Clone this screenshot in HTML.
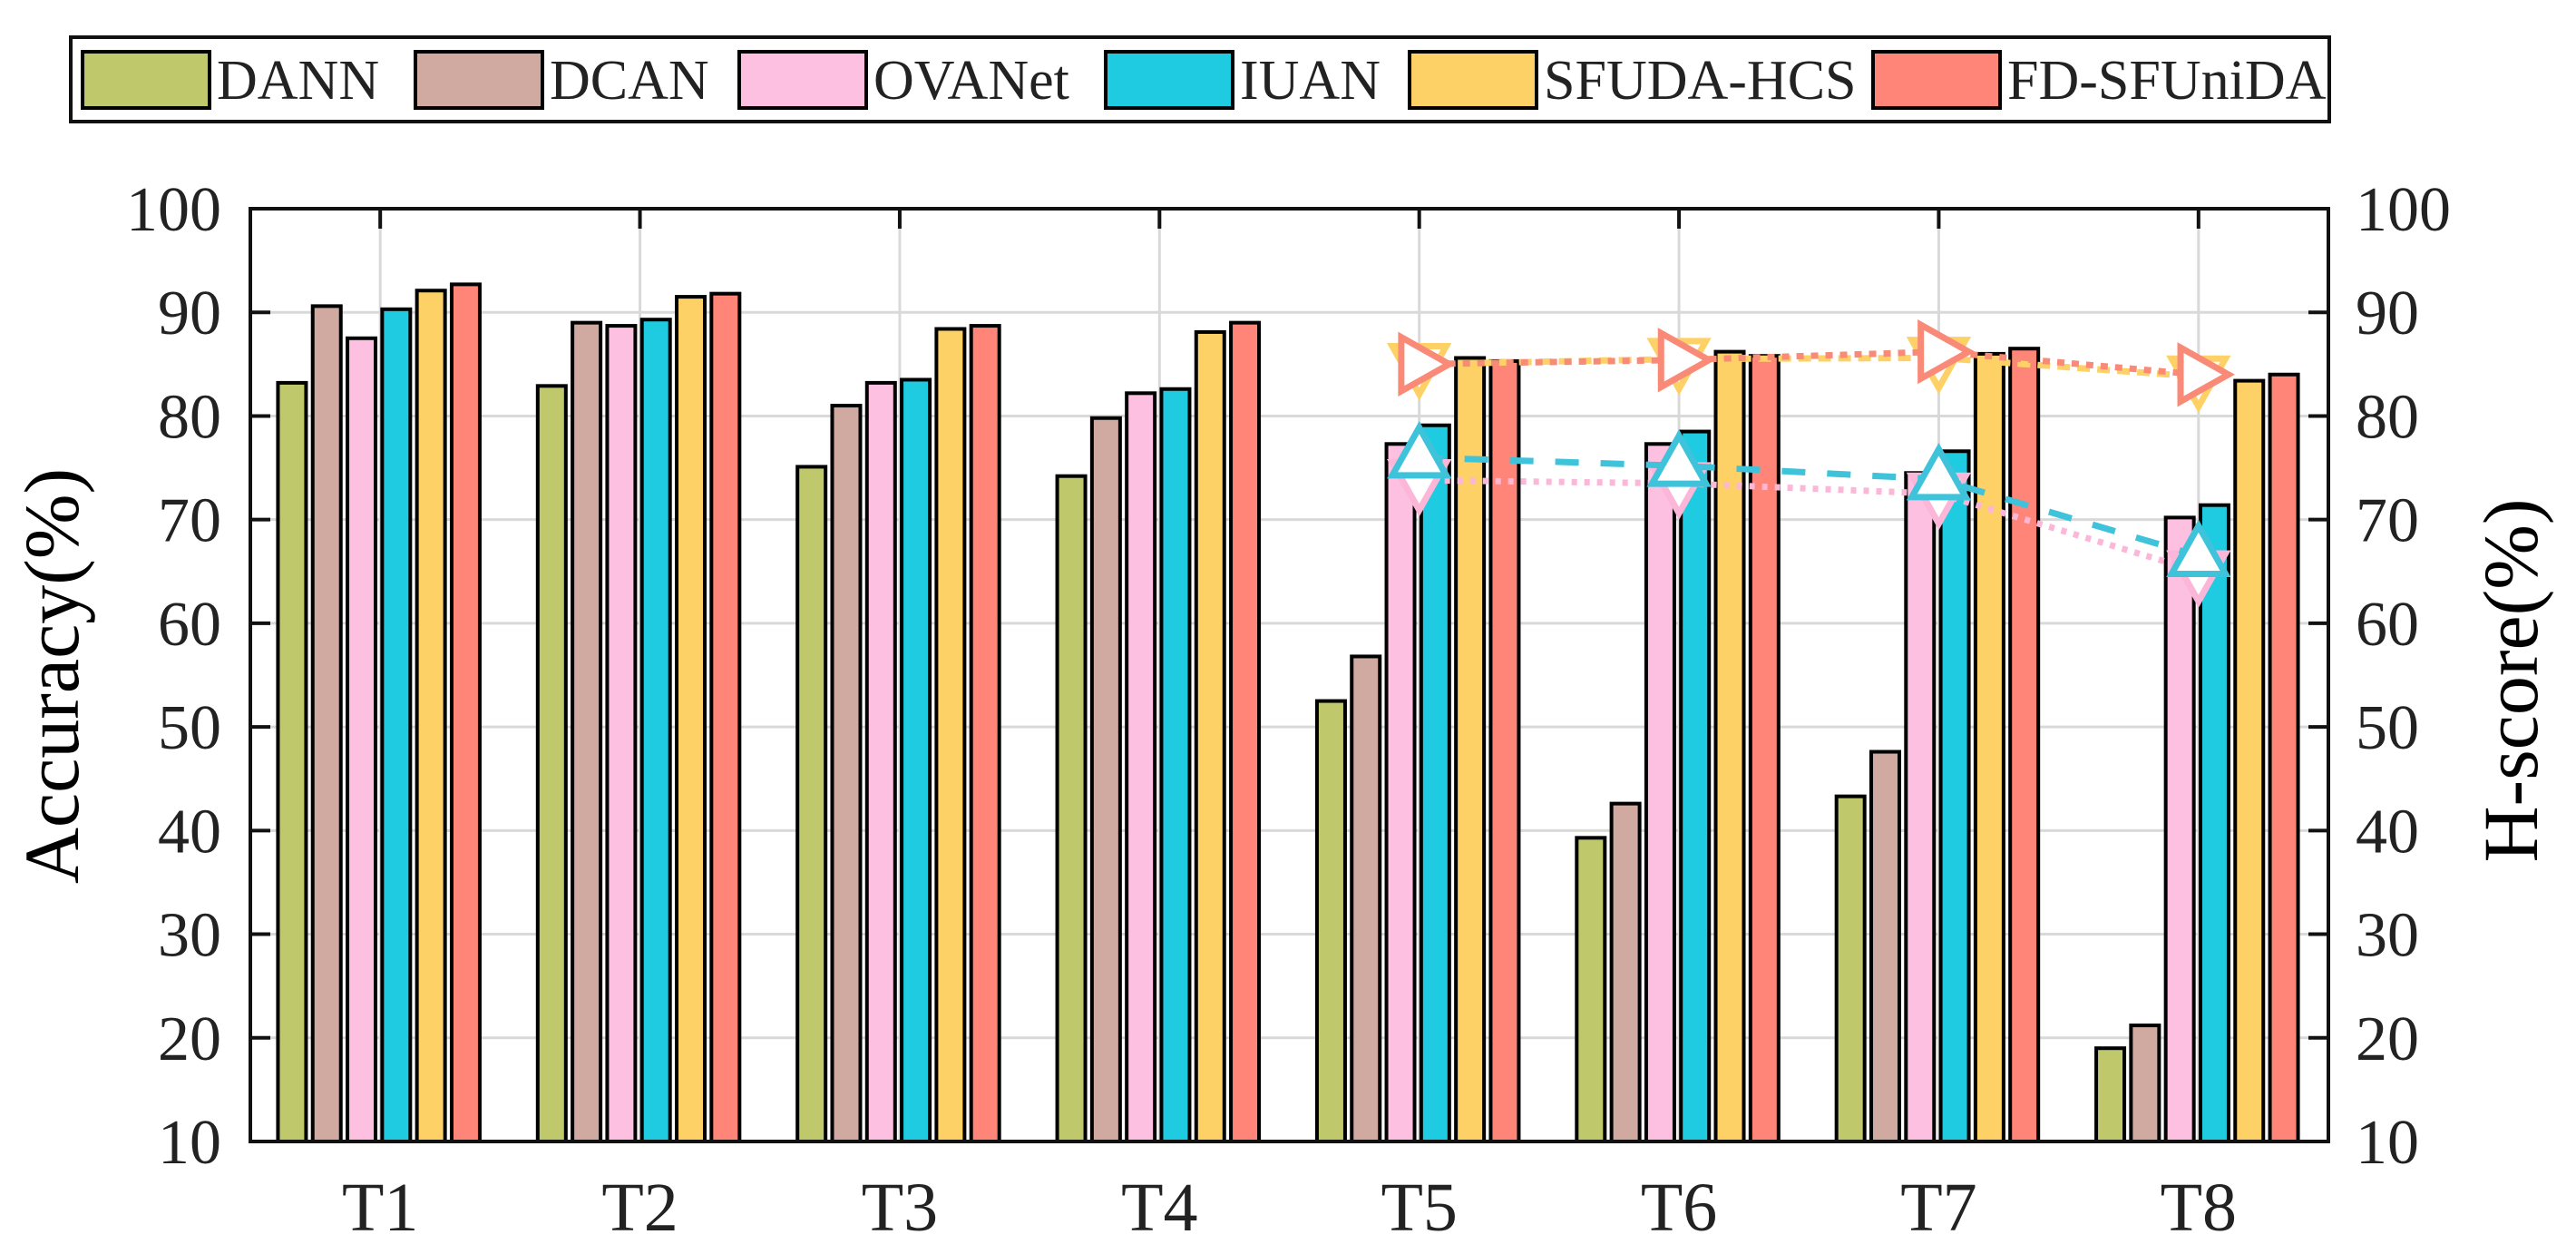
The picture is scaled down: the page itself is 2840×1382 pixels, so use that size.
<!DOCTYPE html>
<html><head><meta charset="utf-8"><style>
html,body{margin:0;padding:0;background:#fff;}
svg{display:block;font-family:"Liberation Serif",serif;}
</style></head><body>
<svg id="chart" width="2840" height="1382" viewBox="0 0 2840 1382" xmlns="http://www.w3.org/2000/svg">
<g id="grid"></g>
<g id="bars"></g>
<g id="lines"></g>
<g id="axes"></g>
<g id="legend"></g>
<text x="0" y="0" font-size="86" text-anchor="middle" transform="translate(86,745) rotate(-90)">Accuracy(%)</text>
<text x="0" y="0" font-size="86" text-anchor="middle" transform="translate(2797,750) rotate(-90)">H-score(%)</text>
</svg>
<script>
const categories = ["T1","T2","T3","T4","T5","T6","T7","T8"];
const seriesNames = ["DANN","DCAN","OVANet","IUAN","SFUDA-HCS","FD-SFUniDA"];
const dann  = [83.2, 82.9, 75.1, 74.2, 52.5, 39.3, 43.3, 19.0];
const dcan  = [90.6, 89.0, 81.0, 79.8, 56.8, 42.6, 47.6, 21.2];
const ovanet= [87.5, 88.7, 83.2, 82.2, 77.3, 77.3, 74.5, 70.2];
const iuan  = [90.3, 89.3, 83.5, 82.6, 79.1, 78.5, 76.6, 71.4];
const sfuda = [92.1, 91.5, 88.4, 88.1, 85.6, 86.2, 86.0, 83.4];
const fdsf  = [92.7, 91.8, 88.7, 89.0, 85.3, 85.8, 86.5, 84.0];
const lineCats = ["T5","T6","T7","T8"];
const hOvanet = [73.8, 73.5, 72.5, 65.0];
const hIuan   = [76.0, 75.2, 73.9, 66.5];
const hSfuda  = [85.0, 85.5, 85.6, 83.8];
const hFd     = [85.0, 85.4, 86.2, 84.0];
const yTicks = [10,20,30,40,50,60,70,80,90,100];

const NS="http://www.w3.org/2000/svg";
const L=276,R=2567,T=230,B=1258,YMIN=10,YMAX=100;
const colors=["#bfc86a","#d0a9a0","#fdc0e0","#1ecbe1","#fed166","#fe8577"];
const band=(R-L)/categories.length;
const xC=c=>L+band*(categories.indexOf(c)+0.5);
const y=v=>B-(v-YMIN)/(YMAX-YMIN)*(B-T);
function mk(tag,attrs,parent){const e=document.createElementNS(NS,tag);for(const k in attrs)e.setAttribute(k,attrs[k]);parent.appendChild(e);return e;}
const grid=document.getElementById('grid'),bars=document.getElementById('bars'),lines=document.getElementById('lines'),axes=document.getElementById('axes'),legend=document.getElementById('legend');

yTicks.forEach(t=>{
  const g=mk('line',{x1:L,x2:R,y1:y(t),y2:y(t),stroke:'#d9d9d9','stroke-width':3},grid);
  
  
  const tl=mk('line',{x1:L,x2:L+22,y1:y(t),y2:y(t),stroke:'#111','stroke-width':4},axes);
  
  
  const tr=mk('line',{x1:R-22,x2:R,y1:y(t),y2:y(t),stroke:'#111','stroke-width':4},axes);
  
  
  const a=mk('text',{x:244,y:y(t)+24,'font-size':70,'text-anchor':'end',fill:'#222'},axes);a.textContent=t;
  
  
  const b=mk('text',{x:2597,y:y(t)+24,'font-size':70,'text-anchor':'start',fill:'#222'},axes);b.textContent=t;
  
  
});
categories.forEach(c=>{
  const g=mk('line',{x1:xC(c),x2:xC(c),y1:T,y2:B,stroke:'#d9d9d9','stroke-width':3},grid);
  
  
  const t1=mk('line',{x1:xC(c),x2:xC(c),y1:T,y2:T+22,stroke:'#111','stroke-width':4},axes);
  
  
  const lbl=mk('text',{x:xC(c),y:1356,'font-size':76,'text-anchor':'middle',fill:'#222'},axes);lbl.textContent=c;
  
  
});
const series=[dann,dcan,ovanet,iuan,sfuda,fdsf];
const pitch=38.3,bw=31;
series.forEach((vals,si)=>{
  vals.forEach((v,ci)=>{
    const cx=xC(categories[ci])-1.5+(si-2.5)*pitch;
    const r=mk('rect',{x:cx-bw/2,y:y(v),width:bw,height:B-y(v),fill:colors[si],stroke:'#000','stroke-width':4},bars);
    
    
  });
});
const frame=mk('rect',{x:L,y:T,width:R-L,height:B-T,fill:'none',stroke:'#111','stroke-width':4},axes);



function tri(type,cx,cy,s){
  if(type==='up')return `${cx},${cy-s} ${cx+s*0.9},${cy+s*0.6} ${cx-s*0.9},${cy+s*0.6}`;
  if(type==='down')return `${cx},${cy+s} ${cx+s*0.9},${cy-s*0.6} ${cx-s*0.9},${cy-s*0.6}`;
  return `${cx+s},${cy} ${cx-s*0.6},${cy-s*0.9} ${cx-s*0.6},${cy+s*0.9}`;
}
const lineDefs=[
  {vals:hOvanet,color:'#fbb6d8',dash:'6 8',mark:'down',name:'ovanet'},
  {vals:hIuan,color:'#3fc3da',dash:'26 24',mark:'up',name:'iuan'},
  {vals:hSfuda,color:'#fed166',dash:'14 8',mark:'down',name:'sfuda-hcs'},
  {vals:hFd,color:'#f98a78',dash:'8 8',mark:'right',name:'fd-sfunida'}
];
lineDefs.forEach(d=>{
  const pts=d.vals.map((v,i)=>xC(lineCats[i])+','+y(v)).join(' ');
  const pl=mk('polyline',{points:pts,fill:'none',stroke:d.color,'stroke-width':7,'stroke-dasharray':d.dash},lines);
  
  
  d.vals.forEach((v,i)=>{
    const m=mk('polygon',{points:tri(d.mark,xC(lineCats[i]),y(v),33),fill:'#fff',stroke:d.color,'stroke-width':7},lines);
    
    
  });
});

const lb=mk('rect',{x:78,y:41,width:2490,height:93,fill:'#fff',stroke:'#111','stroke-width':4},legend);


const patchX=[91,458,815,1219,1554,2065];
seriesNames.forEach((n,i)=>{
  const p=mk('rect',{x:patchX[i],y:57,width:140,height:62,fill:colors[i],stroke:'#000','stroke-width':4},legend);
  
  
  const t=mk('text',{x:patchX[i]+148,y:109,'font-size':62,fill:'#222'},legend);t.textContent=n;
  
  
});
</script>
</body></html>
